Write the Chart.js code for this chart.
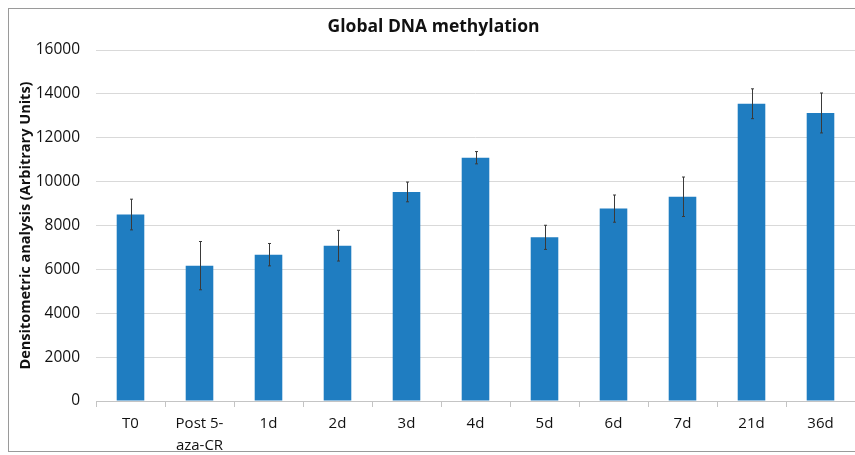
<!DOCTYPE html>
<html>
<head>
<meta charset="utf-8">
<script src="https://cdn.jsdelivr.net/npm/chart.js@4"></script>
<style>
  html, body { margin: 0; padding: 0; background: #fff; }
  canvas { display: block; }
</style>
</head>
<body>
<canvas id="grafico" width="855" height="455"></canvas>
<script>
// dados
var categorias = ['T0', ['Post 5-', 'aza-CR'], '1d', '2d', '3d', '4d', '5d', '6d', '7d', '21d', '36d'];
var valores = [8500, 6170, 6670, 7080, 9530, 11090, 7460, 8770, 9310, 13550, 13130];
var erros = [700, 1100, 510, 700, 450, 280, 550, 620, 900, 680, 910];
var marcasY = [0, 2000, 4000, 6000, 8000, 10000, 12000, 14000, 16000];

// moldura cinza em volta do gráfico
var moldura = {
    id: 'moldura',
    beforeDraw: function(chart) {
        var c = chart.ctx;
        c.save();
        c.fillStyle = '#fff';
        c.fillRect(0, 0, chart.width, chart.height);
        c.strokeStyle = '#9a9a9a';
        c.lineWidth = 1;
        c.strokeRect(8.5, 8.5, 900, 443);
        c.restore();
    }
};

// barras de erro
var barrasErro = {
    id: 'barrasErro',
    afterDatasetsDraw: function(chart) {
        var c = chart.ctx;
        var y = chart.scales.y;
        var meta = chart.getDatasetMeta(0);
        c.save();
        c.strokeStyle = '#3a3a3a';
        c.lineWidth = 1;
        meta.data.forEach(function(bar, i) {
            var x = Math.round(bar.x) + 0.5;
            var topo = y.getPixelForValue(valores[i] + erros[i]);
            var base = y.getPixelForValue(valores[i] - erros[i]);
            c.beginPath();
            c.moveTo(x, topo);
            c.lineTo(x, base);
            c.moveTo(x - 1.5, topo);
            c.lineTo(x + 1.5, topo);
            c.moveTo(x - 1.5, base);
            c.lineTo(x + 1.5, base);
            c.stroke();
        });
        c.restore();
    }
};

var fonte = "'Open Sans', 'DejaVu Sans', sans-serif";

var ctx = document.getElementById('grafico').getContext('2d');
var grafico = new Chart(ctx, {
    type: 'bar',
    data: {
        labels: categorias,
        datasets: [{
            label: 'Global DNA methylation',
            data: valores,
            backgroundColor: '#1f7dc1',
            borderWidth: 0,
            categoryPercentage: 1,
            barPercentage: 0.4
        }]
    },
    options: {
        responsive: false,
        animation: false,
        layout: { padding: { left: 8, right: -4, top: 0, bottom: 0 } },
        plugins: {
            legend: { display: false },
            tooltip: { enabled: false },
            title: {
                display: true,
                text: 'Global DNA methylation',
                color: '#111',
                font: { family: fonte, size: 17.5, weight: 'bold', lineHeight: 1.2 },
                padding: { top: 17, bottom: 12 }
            }
        },
        scales: {
            x: {
                grid: {
                    drawOnChartArea: false,
                    drawTicks: true,
                    tickLength: 6,
                    color: '#c4c4c4'
                },
                border: { color: '#c4c4c4' },
                ticks: {
                    color: '#111',
                    padding: 6,
                    maxRotation: 0,
                    autoSkip: false,
                    font: { family: fonte, size: 15, lineHeight: 1.47 }
                },
                afterFit: function(s) { s.height = 54; }
            },
            y: {
                min: 0,
                max: 16000,
                afterBuildTicks: function(s) {
                    s.ticks = marcasY.map(function(v) { return { value: v }; });
                },
                grid: { color: '#d9d9d9', drawTicks: false },
                border: { display: false },
                ticks: {
                    color: '#111',
                    padding: 16,
                    font: { family: fonte, size: 15.5 },
                    callback: function(v) { return String(v); }
                },
                title: {
                    display: true,
                    text: 'Densitometric analysis (Arbitrary Units)',
                    color: '#111',
                    font: { family: fonte, size: 14.5, weight: 'bold' },
                    padding: { top: 9, bottom: 0 }
                },
                afterFit: function(s) { s.width = 88; }
            }
        }
    },
    plugins: [moldura, barrasErro]
});
</script>
</body>
</html>
